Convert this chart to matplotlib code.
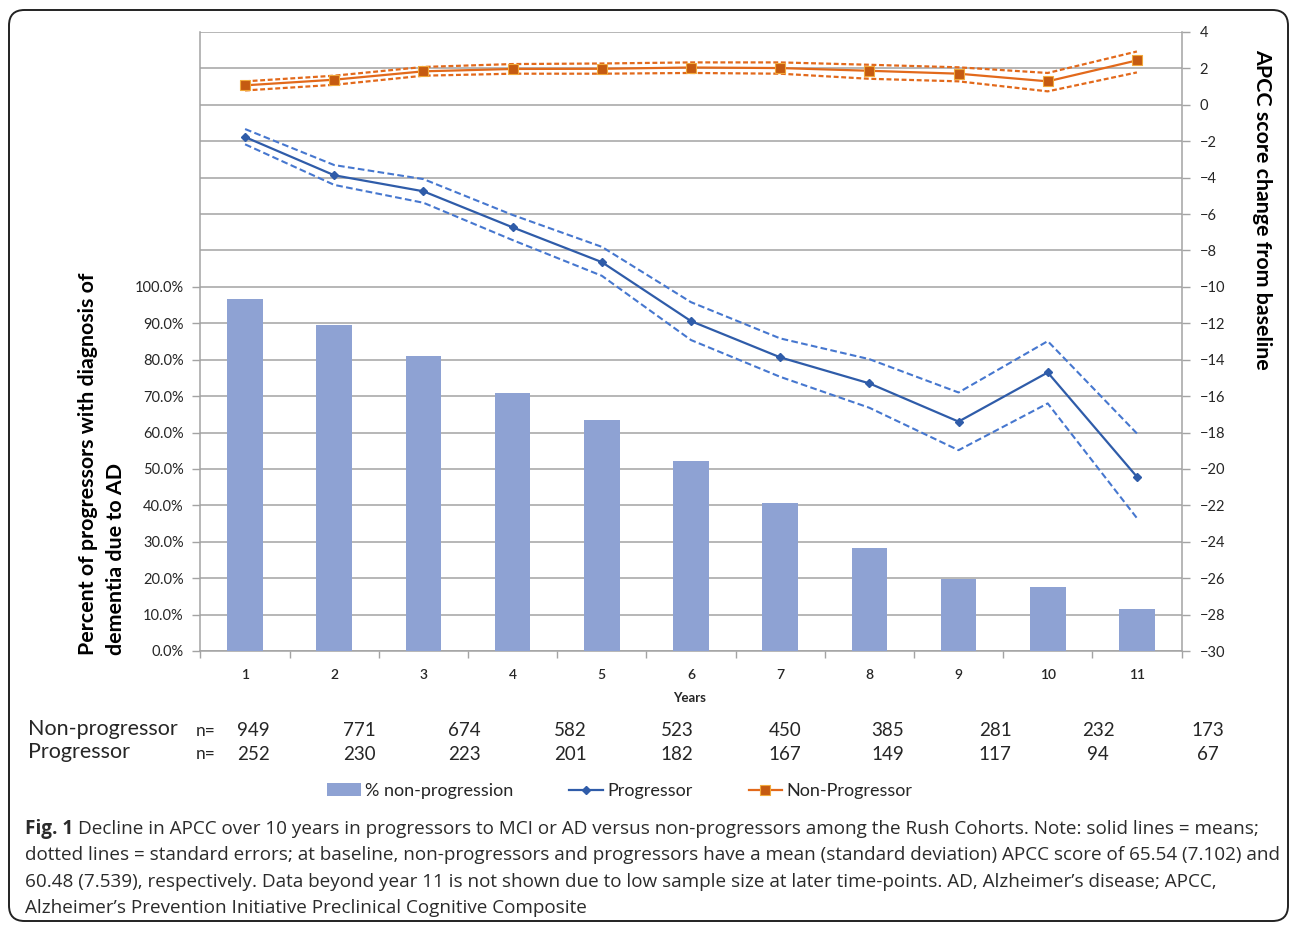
import matplotlib
matplotlib.use("Agg")
import matplotlib.pyplot as plt
from matplotlib.patches import FancyBboxPatch
from matplotlib.ticker import FixedLocator, FuncFormatter
import numpy as np

# ---- data -------------------------------------------------------------
years = [1, 2, 3, 4, 5, 6, 7, 8, 9, 10, 11]
pct_non_progression = [96.7, 89.6, 81.0, 70.9, 63.5, 52.3, 40.7, 28.4, 19.9, 17.7, 11.4]

prog_mean = [-1.77, -3.87, -4.75, -6.73, -8.64, -11.88, -13.87, -15.30, -17.40, -14.70, -20.43]
prog_upper = [-1.33, -3.31, -4.08, -6.05, -7.80, -10.84, -12.83, -13.97, -15.80, -12.98, -18.05]
prog_lower = [-2.17, -4.40, -5.38, -7.43, -9.39, -12.92, -14.94, -16.64, -18.97, -16.40, -22.70]

nonprog_mean = [1.07, 1.38, 1.84, 1.97, 1.98, 2.05, 2.02, 1.87, 1.71, 1.29, 2.44]
nonprog_upper = [1.29, 1.60, 2.08, 2.24, 2.27, 2.33, 2.33, 2.20, 2.06, 1.75, 2.93]
nonprog_lower = [0.79, 1.10, 1.60, 1.71, 1.71, 1.75, 1.71, 1.43, 1.29, 0.74, 1.78]

n_nonprog = [949, 771, 674, 582, 523, 450, 385, 281, 232, 173]
n_prog = [252, 230, 223, 201, 182, 167, 149, 117, 94, 67]

pct_ticks = [0, 10, 20, 30, 40, 50, 60, 70, 80, 90, 100]
apcc_ticks = [-30, -28, -26, -24, -22, -20, -18, -16, -14, -12, -10,
              -8, -6, -4, -2, 0, 2, 4]

caption_lines = [
    "Decline in APCC over 10 years in progressors to MCI or AD versus non-progressors among the Rush Cohorts. Note: solid lines = means;",
    "dotted lines = standard errors; at baseline, non-progressors and progressors have a mean (standard deviation) APCC score of 65.54 (7.102) and",
    "60.48 (7.539), respectively. Data beyond year 11 is not shown due to low sample size at later time-points. AD, Alzheimer\u2019s disease; APCC,",
    "Alzheimer\u2019s Prevention Initiative Preclinical Cognitive Composite",
]

# ---- style ------------------------------------------------------------
FONT = ["Lato", "DejaVu Sans"]
plt.rcParams["font.family"] = FONT
BAR_C = "#8EA2D3"
BLUE = "#2F5CA9"
BLUE_D = "#4677CF"
ORANGE = "#E2691B"
ORANGE_M = "#C55A11"
GRID_C = "#A3A3A3"
TXT = "#262626"
CAP_C = "#2B2B2B"

W, H = 1290, 925
fig = plt.figure(figsize=(W / 100, H / 100), dpi=100)
fig.patch.set_facecolor("white")


def fx(px):
    return px / W


def fy(py):
    return 1 - py / H


ax = fig.add_axes([fx(200.5), fy(651), fx(1181.5) - fx(200.5), fy(32) - fy(651)])
ax2 = ax.twinx()
ax.set_zorder(1)
ax2.set_zorder(2)
ax.patch.set_visible(False)
ax2.patch.set_visible(False)

# bars: percent without progression
bars = ax.bar(years, pct_non_progression, width=0.4, color=BAR_C, zorder=3,
              label="% non-progression")
ax.set_xlim(0.5, 11.5)
ax.set_ylim(0, 170)
ax.yaxis.set_major_locator(FixedLocator(pct_ticks))
ax.yaxis.set_minor_locator(FixedLocator([110, 120, 130, 140, 150, 160, 170]))
ax.yaxis.set_major_formatter(FuncFormatter(lambda v, p: f"{v:.1f}%"))
ax.grid(True, axis="y", which="both", color=GRID_C, lw=1.1, zorder=0)
ax.set_axisbelow(True)
ax.tick_params(axis="y", which="major", direction="out", length=6, width=1,
               color=GRID_C, labelsize=10.5, labelcolor=TXT, pad=6)
ax.tick_params(axis="y", which="minor", length=0)

ax.xaxis.set_major_locator(FixedLocator(years))
ax.xaxis.set_minor_locator(FixedLocator([y + 0.5 for y in [0] + years]))
ax.tick_params(axis="x", which="major", length=0, labelsize=10,
               labelcolor=TXT, pad=13)
ax.tick_params(axis="x", which="minor", direction="out", length=5, width=1,
               color=GRID_C)
for lbl in ax.get_xticklabels():
    lbl.set_fontweight("semibold")

for side in ("top", "right"):
    ax.spines[side].set_visible(False)
for side in ("left", "bottom"):
    ax.spines[side].set_color(GRID_C)
    ax.spines[side].set_linewidth(1.1)
for side in ("top", "left", "bottom"):
    ax2.spines[side].set_visible(False)
ax2.spines["right"].set_color(GRID_C)
ax2.spines["right"].set_linewidth(1.1)

# lines: APCC change from baseline
ax2.set_ylim(-30, 4)
ax2.yaxis.set_major_locator(FixedLocator(apcc_ticks))
ax2.tick_params(axis="y", direction="out", length=6, width=1, color=GRID_C,
                labelsize=10.5, labelcolor=TXT, pad=7)

dash_b = (0, (3.2, 1.6))
dash_o = (0, (2.2, 1.2))
ax2.plot(years, prog_upper, color=BLUE_D, lw=1.5, ls=dash_b)
ax2.plot(years, prog_lower, color=BLUE_D, lw=1.5, ls=dash_b)
prog_line, = ax2.plot(years, prog_mean, color=BLUE, lw=1.6, marker="D",
                      ms=4.5, label="Progressor")
ax2.plot(years, nonprog_upper, color=ORANGE, lw=1.6, ls=dash_o)
ax2.plot(years, nonprog_lower, color=ORANGE, lw=1.6, ls=dash_o)
nonprog_line, = ax2.plot(years, nonprog_mean, color=ORANGE, lw=1.6, marker="s",
                         ms=7, mfc=ORANGE_M, mec="#F2A93B", mew=0.8,
                         label="Non-Progressor")

# axis titles
fig.text(fx(102), fy(464), "Percent of progressors with diagnosis of\ndementia due to AD",
         rotation=90, ha="center", va="center", multialignment="left",
         fontsize=15.4, fontweight="bold", color="black", linespacing=1.45)
fig.text(fx(1262), fy(209), "APCC score change from baseline", rotation=-90,
         ha="center", va="center", fontsize=15.4, fontweight="bold", color="black")
fig.text(fx(690), fy(698), "Years", ha="center", va="center", fontsize=9.5,
         fontweight="bold", color=TXT)

# sample sizes per year
col_x = [253, 359, 464, 570, 677, 785, 888, 995, 1098, 1208]
for row_y, name, counts in ((729, "Non-progressor", n_nonprog),
                            (752, "Progressor", n_prog)):
    fig.text(fx(28), fy(row_y), name, ha="left", va="center", fontsize=15.5,
             color=TXT)
    fig.text(fx(196), fy(row_y + 2), "n=", ha="left", va="center", fontsize=12.5,
             color=TXT)
    for cx, c in zip(col_x, counts):
        fig.text(fx(cx), fy(row_y + 2), str(c), ha="center", va="center",
                 fontsize=13.5, color=TXT)

# legend
fig.legend(handles=[bars, prog_line, nonprog_line], loc="center",
           bbox_to_anchor=(fx(620), fy(791)), ncol=3, frameon=False,
           fontsize=13, handlelength=1.85, handleheight=0.75,
           handletextpad=0.25, columnspacing=3.1, labelcolor=TXT)

# caption
cap_font = ["Open Sans", "DejaVu Sans"]
cap_size = 13.6
cap_y = [829, 855, 882, 908]
renderer = fig.canvas.get_renderer()
fig_t = fig.text(fx(25), fy(cap_y[0]), "Fig. 1", ha="left", va="center",
                 fontsize=cap_size, fontweight="bold", family=cap_font,
                 color=CAP_C)
bb = fig_t.get_window_extent(renderer)
fig.text(bb.x1 / W + fx(5), fy(cap_y[0]), caption_lines[0], ha="left",
         va="center", fontsize=cap_size, family=cap_font, color=CAP_C)
for yy, line in zip(cap_y[1:], caption_lines[1:]):
    fig.text(fx(25), fy(yy), line, ha="left", va="center", fontsize=cap_size,
             family=cap_font, color=CAP_C)

# rounded frame around the figure
frame = FancyBboxPatch((fx(9), fy(921)), fx(1288) - fx(9), fy(10) - fy(921),
                       boxstyle="round,pad=0,rounding_size=0.012",
                       transform=fig.transFigure, fill=False, lw=1.4,
                       edgecolor="#222222", mutation_aspect=W / H)
fig.add_artist(frame)

fig.savefig("out.png", dpi=100)
